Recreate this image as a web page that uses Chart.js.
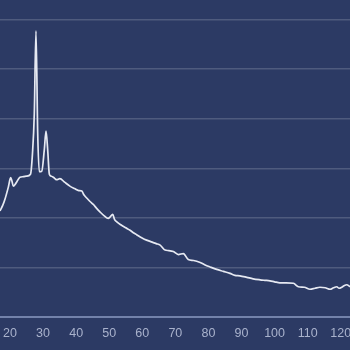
<!DOCTYPE html>
<html>
<head>
<meta charset="utf-8">
<script src="https://cdn.jsdelivr.net/npm/chart.js@4/dist/chart.umd.min.js"></script>
<style>
    html, body { margin: 0; padding: 0; background: #2c3a64; }
    #wrap { width: 350px; height: 350px; }
</style>
</head>
<body>
<div id="wrap"><canvas id="patternChart"></canvas></div>
<script>
// Scan positions (x) and intensities (y)
const angles = [16.98, 17.8, 18.5, 19.5, 20.2, 20.6, 21.0, 21.8, 23.0, 24.0, 25.0, 26.2, 26.8, 27.35, 27.86,
    28.38, 28.86, 29.6, 30.37, 30.89, 31.4, 31.9, 32.5, 33.1, 33.6, 34.1, 35.1, 36.5, 38.1, 39.5, 40.8,
    41.7, 42.4, 43.2, 44.2, 45.2, 46.2, 47.2, 48.5, 49.7, 50.3, 51.05, 51.6, 52.3, 53.5, 55.0, 56.3,
    57.3, 58.3, 59.8, 61.3, 63.0, 64.2, 65.4, 66.9, 68.0, 69.4, 70.9, 72.4, 73.9, 75.5, 77.5, 79.0,
    80.5, 82.5, 84.5, 86.5, 88.0, 89.5, 91.6, 93.5, 95.6, 97.0, 98.6, 100.0, 101.6, 103.5, 105.7,
    107.2, 109.0, 110.7, 112.2, 113.7, 115.3, 116.8, 117.8, 118.8, 119.5, 120.3, 121.0, 121.8, 122.8];
const intensity = [2.14, 2.25, 2.38, 2.62, 2.81, 2.74, 2.64, 2.70, 2.82, 2.83, 2.84, 2.88, 3.30, 4.1, 5.77,
    3.7, 2.93, 2.94, 3.37, 3.75, 3.37, 2.88, 2.84, 2.82, 2.79, 2.77, 2.79, 2.72, 2.64, 2.59, 2.55,
    2.54, 2.46, 2.40, 2.33, 2.27, 2.19, 2.12, 2.04, 1.99, 2.02, 2.07, 1.97, 1.92, 1.86, 1.80, 1.75,
    1.70, 1.66, 1.60, 1.55, 1.51, 1.48, 1.45, 1.35, 1.34, 1.32, 1.26, 1.28, 1.16, 1.14, 1.10, 1.05,
    1.01, 0.96, 0.92, 0.88, 0.84, 0.83, 0.80, 0.77, 0.75, 0.74, 0.73, 0.71, 0.69, 0.69, 0.68,
    0.61, 0.60, 0.56, 0.58, 0.60, 0.59, 0.56, 0.59, 0.61, 0.58, 0.60, 0.63, 0.65, 0.61];

const xMin = 16.98;
const xMax = 122.8;
const yMax = 6.394;

const points = angles.map((a, i) => ({ x: a, y: intensity[i] }));

const ctx = document.getElementById('patternChart').getContext('2d');
new Chart(ctx, {
    type: 'line',
    data: {
        datasets: [{
            data: points,
            borderColor: '#e6e9f2',
            borderWidth: 1.7,
            pointRadius: 0,
            cubicInterpolationMode: 'monotone',
            fill: false
        }]
    },
    options: {
        responsive: true,
        maintainAspectRatio: false,
        animation: false,
        layout: { padding: 0 },
        plugins: {
            legend: { display: false },
            tooltip: { enabled: false }
        },
        scales: {
            x: {
                type: 'linear',
                min: xMin,
                max: xMax,
                grid: { display: false, drawTicks: false },
                border: { display: true, color: '#7382aa', width: 2 },
                ticks: {
                    stepSize: 10,
                    includeBounds: false,
                    autoSkip: false,
                    maxRotation: 0,
                    padding: 9,
                    color: '#a9b2cc',
                    font: { family: 'Liberation Sans, Arial, sans-serif', size: 12.5 }
                },
                afterFit: function(scale) {
                    scale.height = 33;
                    scale.paddingLeft = 0;
                    scale.paddingRight = 0;
                }
            },
            y: {
                min: 0,
                max: yMax,
                grid: { color: 'rgba(255,255,255,0.17)', lineWidth: 1.5, drawTicks: false },
                border: { display: false },
                ticks: { display: false, stepSize: 1, includeBounds: false },
                afterFit: function(scale) {
                    scale.width = 0;
                    scale.paddingTop = 0;
                    scale.paddingBottom = 0;
                }
            }
        }
    }
});
</script>
</body>
</html>
